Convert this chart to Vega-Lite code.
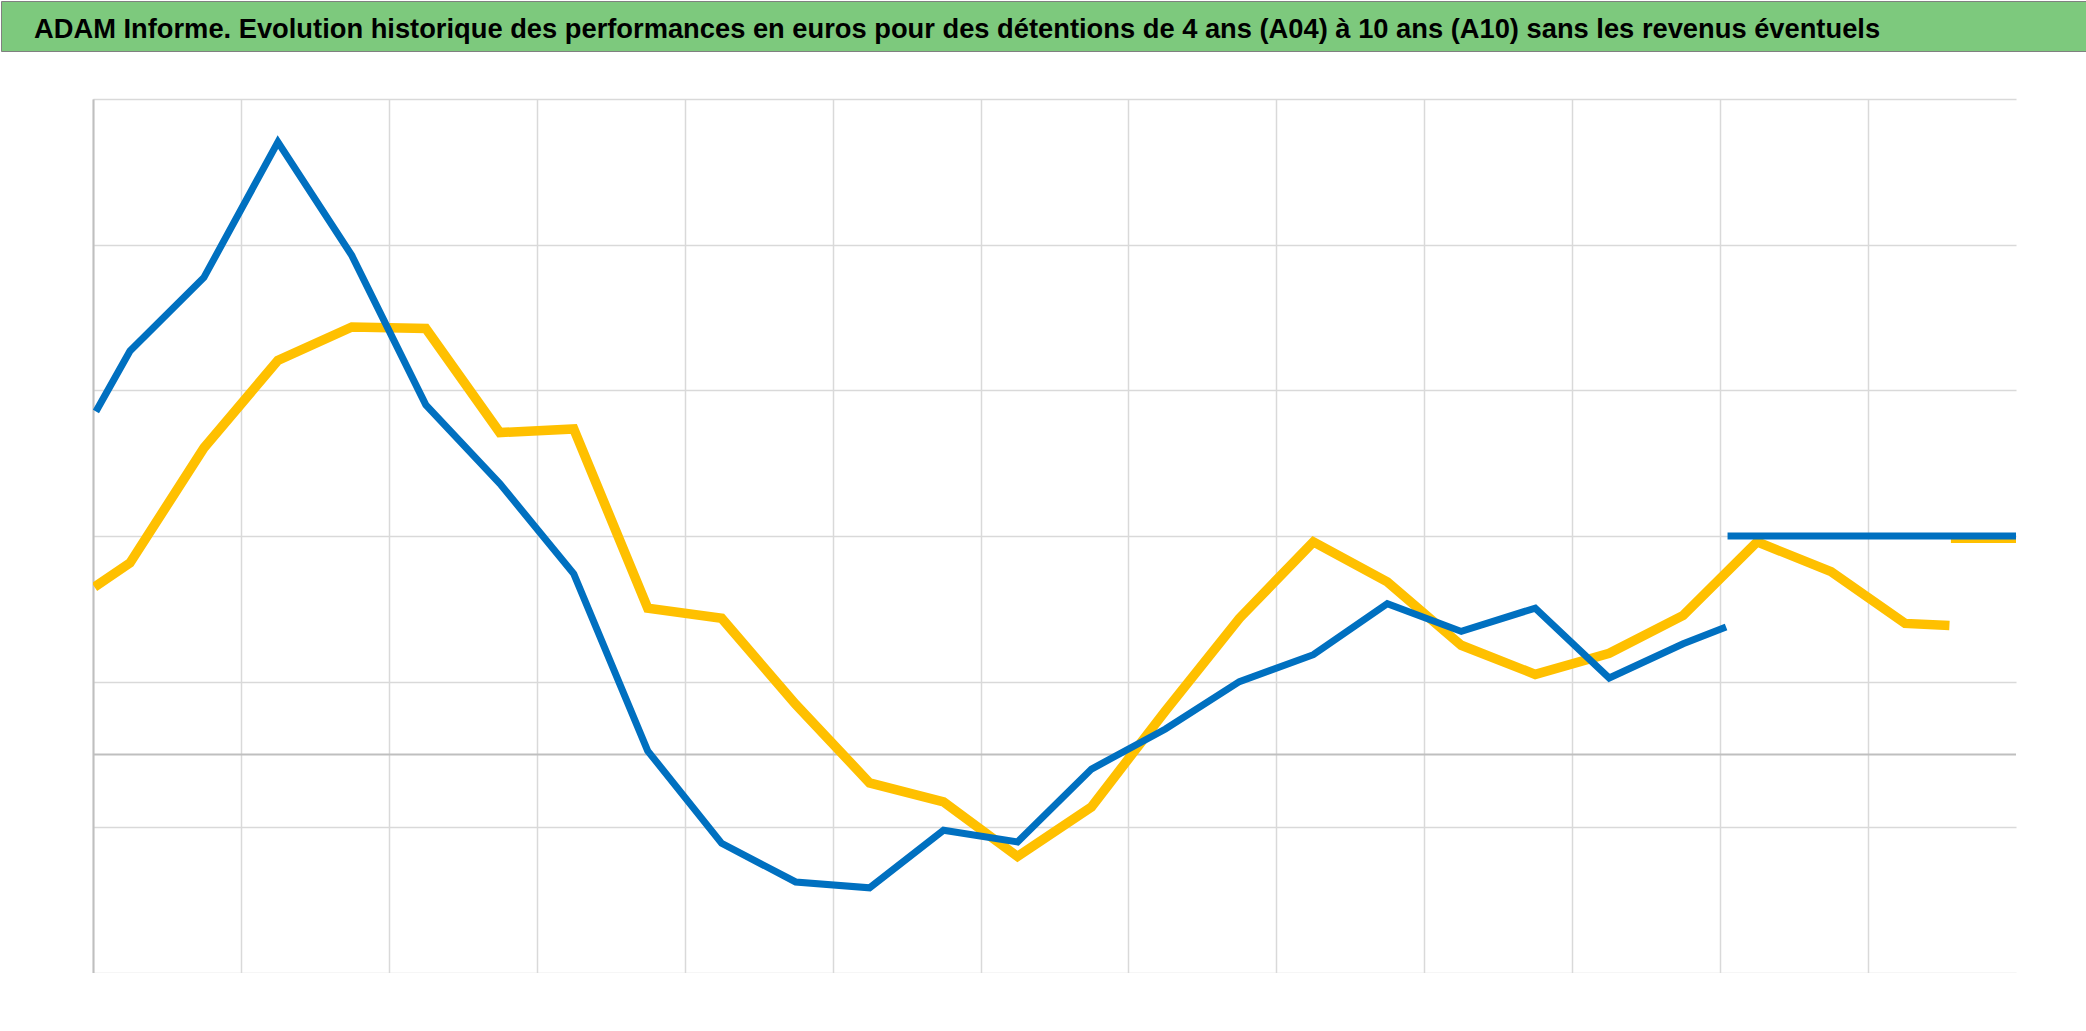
{
  "$schema": "https://vega.github.io/schema/vega-lite/v6.json",
  "padding": 0,
  "background": "white",
  "config": {"view": {"stroke": null}},
  "datasets": {
    "series": [
      {"s": "A10", "seg": "a", "u": 0.01, "v": 23.0},
      {"s": "A10", "seg": "a", "u": 0.25, "v": 26.3},
      {"s": "A10", "seg": "a", "u": 0.75, "v": 42.1},
      {"s": "A10", "seg": "a", "u": 1.25, "v": 54.1},
      {"s": "A10", "seg": "a", "u": 1.75, "v": 58.7},
      {"s": "A10", "seg": "a", "u": 2.25, "v": 58.5},
      {"s": "A10", "seg": "a", "u": 2.75, "v": 44.2},
      {"s": "A10", "seg": "a", "u": 3.25, "v": 44.7},
      {"s": "A10", "seg": "a", "u": 3.75, "v": 20.1},
      {"s": "A10", "seg": "a", "u": 4.25, "v": 18.7},
      {"s": "A10", "seg": "a", "u": 4.75, "v": 6.9},
      {"s": "A10", "seg": "a", "u": 5.25, "v": -3.9},
      {"s": "A10", "seg": "a", "u": 5.75, "v": -6.5},
      {"s": "A10", "seg": "a", "u": 6.25, "v": -14.0},
      {"s": "A10", "seg": "a", "u": 6.75, "v": -7.2},
      {"s": "A10", "seg": "a", "u": 7.25, "v": 6.0},
      {"s": "A10", "seg": "a", "u": 7.75, "v": 18.7},
      {"s": "A10", "seg": "a", "u": 8.25, "v": 29.2},
      {"s": "A10", "seg": "a", "u": 8.75, "v": 23.7},
      {"s": "A10", "seg": "a", "u": 9.25, "v": 15.0},
      {"s": "A10", "seg": "a", "u": 9.75, "v": 11.0},
      {"s": "A10", "seg": "a", "u": 10.25, "v": 13.9},
      {"s": "A10", "seg": "a", "u": 10.75, "v": 19.1},
      {"s": "A10", "seg": "a", "u": 11.25, "v": 29.2},
      {"s": "A10", "seg": "a", "u": 11.75, "v": 25.1},
      {"s": "A10", "seg": "a", "u": 12.25, "v": 18.0},
      {"s": "A10", "seg": "a", "u": 12.55, "v": 17.7},
      {"s": "A10", "seg": "b", "u": 12.56, "v": 29.7},
      {"s": "A10", "seg": "b", "u": 13.0, "v": 29.7},
      {"s": "A04", "seg": "a", "u": 0.02, "v": 47.1},
      {"s": "A04", "seg": "a", "u": 0.25, "v": 55.4},
      {"s": "A04", "seg": "a", "u": 0.75, "v": 65.5},
      {"s": "A04", "seg": "a", "u": 1.25, "v": 84.1},
      {"s": "A04", "seg": "a", "u": 1.75, "v": 68.5},
      {"s": "A04", "seg": "a", "u": 2.25, "v": 48.0},
      {"s": "A04", "seg": "a", "u": 2.75, "v": 37.2},
      {"s": "A04", "seg": "a", "u": 3.25, "v": 24.8},
      {"s": "A04", "seg": "a", "u": 3.75, "v": 0.5},
      {"s": "A04", "seg": "a", "u": 4.25, "v": -12.2},
      {"s": "A04", "seg": "a", "u": 4.75, "v": -17.5},
      {"s": "A04", "seg": "a", "u": 5.25, "v": -18.3},
      {"s": "A04", "seg": "a", "u": 5.75, "v": -10.4},
      {"s": "A04", "seg": "a", "u": 6.25, "v": -12.0},
      {"s": "A04", "seg": "a", "u": 6.75, "v": -2.0},
      {"s": "A04", "seg": "a", "u": 7.25, "v": 3.5},
      {"s": "A04", "seg": "a", "u": 7.75, "v": 10.0},
      {"s": "A04", "seg": "a", "u": 8.25, "v": 13.7},
      {"s": "A04", "seg": "a", "u": 8.75, "v": 20.7},
      {"s": "A04", "seg": "a", "u": 9.25, "v": 16.9},
      {"s": "A04", "seg": "a", "u": 9.75, "v": 20.1},
      {"s": "A04", "seg": "a", "u": 10.25, "v": 10.5},
      {"s": "A04", "seg": "a", "u": 10.75, "v": 15.2},
      {"s": "A04", "seg": "a", "u": 11.04, "v": 17.5},
      {"s": "A04", "seg": "b", "u": 11.05, "v": 30.0},
      {"s": "A04", "seg": "b", "u": 13.0, "v": 30.0}
    ]
  },
  "spacing": 46,
  "vconcat": [
    {
      "width": 2086,
      "height": 50,
      "view": {"fill": "#7DC97D", "stroke": "#808080", "strokeWidth": 1},
      "data": {"values": [{"t": "ADAM Informe. Evolution historique des performances en euros pour des détentions de 4 ans (A04) à 10 ans (A10) sans les revenus éventuels"}]},
      "mark": {"type": "text", "align": "left", "baseline": "alphabetic", "font": "Liberation Sans", "fontSize": 27.3, "fontWeight": "bold", "color": "#000000"},
      "encoding": {
        "text": {"field": "t"},
        "x": {"value": 33},
        "y": {"value": 37}
      }
    },
    {
      "spacing": 0,
      "hconcat": [
        {
          "width": 91,
          "height": 874,
          "data": {"values": [{"k": 0}]},
          "mark": {"type": "rule", "opacity": 0},
          "encoding": {}
        },
        {
          "width": 1923,
          "height": 874,
          "layer": [
            {
              "data": {"values": [{"v": 0}]},
              "mark": {"type": "rule", "color": "#bfbfbf", "strokeWidth": 2},
              "encoding": {
                "y": {
                  "field": "v", "type": "quantitative",
                  "scale": {"domain": [-30, 90], "nice": false, "zero": false},
                  "axis": {"values": [-30, -10, 10, 30, 50, 70, 90], "grid": true, "gridColor": "#d9d9d9", "gridWidth": 1.5, "labels": false, "ticks": false, "domain": true, "domainColor": "#bfbfbf", "domainWidth": 2, "title": null}
                }
              }
            },
            {
              "data": {"name": "series"},
              "transform": [{"filter": "datum.s === 'A10'"}],
              "mark": {"type": "line", "strokeWidth": 9.5, "clip": true},
              "encoding": {
                "x": {
                  "field": "u", "type": "quantitative",
                  "scale": {"domain": [0, 13], "nice": false, "zero": false},
                  "axis": {"values": [0, 1, 2, 3, 4, 5, 6, 7, 8, 9, 10, 11, 12], "grid": true, "gridColor": "#d9d9d9", "gridWidth": 1.5, "labels": false, "ticks": false, "domain": false, "title": null}
                },
                "y": {
                  "field": "v", "type": "quantitative",
                  "scale": {"domain": [-30, 90], "nice": false, "zero": false},
                  "axis": {"values": [-30, -10, 10, 30, 50, 70, 90], "grid": true, "gridColor": "#d9d9d9", "gridWidth": 1.5, "labels": false, "ticks": false, "domain": true, "domainColor": "#bfbfbf", "domainWidth": 2, "title": null}
                },
                "detail": {"field": "seg"},
                "color": {"field": "s", "type": "nominal", "scale": {"domain": ["A04", "A10"], "range": ["#0070C0", "#FFC000"]}, "legend": null}
              }
            },
            {
              "data": {"name": "series"},
              "transform": [{"filter": "datum.s === 'A04'"}],
              "mark": {"type": "line", "strokeWidth": 7, "clip": true},
              "encoding": {
                "x": {
                  "field": "u", "type": "quantitative",
                  "scale": {"domain": [0, 13], "nice": false, "zero": false},
                  "axis": {"values": [0, 1, 2, 3, 4, 5, 6, 7, 8, 9, 10, 11, 12], "grid": true, "gridColor": "#d9d9d9", "gridWidth": 1.5, "labels": false, "ticks": false, "domain": false, "title": null}
                },
                "y": {
                  "field": "v", "type": "quantitative",
                  "scale": {"domain": [-30, 90], "nice": false, "zero": false},
                  "axis": {"values": [-30, -10, 10, 30, 50, 70, 90], "grid": true, "gridColor": "#d9d9d9", "gridWidth": 1.5, "labels": false, "ticks": false, "domain": true, "domainColor": "#bfbfbf", "domainWidth": 2, "title": null}
                },
                "detail": {"field": "seg"},
                "color": {"field": "s", "type": "nominal", "scale": {"domain": ["A04", "A10"], "range": ["#0070C0", "#FFC000"]}, "legend": null}
              }
            }
          ]
        }
      ]
    }
  ]
}
